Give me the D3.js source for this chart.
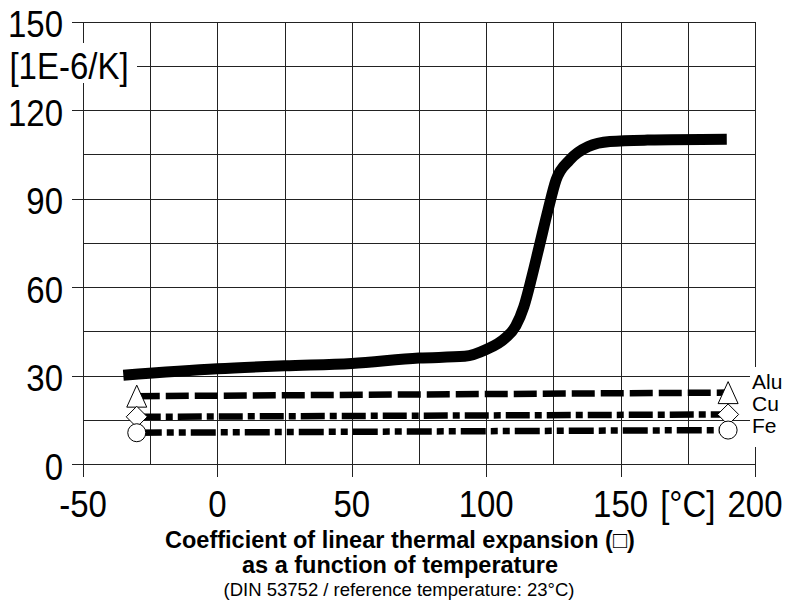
<!DOCTYPE html>
<meta charset="utf-8">
<html>
<head>
    <title>Coefficient of linear thermal expansion</title>
    <style>
        body {
            margin: 0;
            background: white;
        }

        svg text {
            font-family: "Liberation Sans", Arial, sans-serif;
            fill: black;
        }
    </style>
    <script src="https://d3js.org/d3.v7.min.js"></script>
</head>
<body>
    <div id="chart-container"></div>

    <script>
        // main curve (thick black line)
        var tempC = [-35, 0, 25, 50, 75, 92, 100, 107, 111, 114, 117, 120, 123, 126, 131, 138, 146, 160, 189.5];
        var alpha = [30.1, 32.3, 33.3, 34.1, 35.9, 36.5, 38.8, 42.6, 46.8, 53.3, 63.5, 74.8, 86.1, 96.3, 103, 107.6, 109.3, 109.8, 110.1];

        // reference metals, from -30 to 190 °C
        var refTemps = [-30, 190];
        var aluValues = [23.0, 24.2];
        var cuValues = [16.0, 16.8];
        var feValues = [10.6, 11.5];
        var metalNames = ["Alu", "Cu", "Fe"];

        // ticks
        var xTicks = [-50, 0, 50, 100, 150, 200];
        var yTicks = [0, 30, 60, 90, 120, 150];
        var xGrid = d3.range(-50, 201, 25);
        var yGrid = d3.range(0, 151, 15);

        var width = 793, height = 603;

        var svg = d3.select("#chart-container")
            .append("svg")
            .attr("width", width)
            .attr("height", height);

        var x = d3.scaleLinear().domain([-50, 200]).range([83, 755]);
        var y = d3.scaleLinear().domain([0, 150]).range([464, 21.5]);

        // grid (labelled lines stick out as ticks)
        var grid = svg.append("g")
            .attr("stroke", "#222")
            .attr("stroke-width", 1)
            .attr("shape-rendering", "crispEdges");

        grid.selectAll("line.h")
            .data(yGrid)
            .enter().append("line")
            .attr("class", "h")
            .attr("x1", d => yTicks.includes(d) ? x(-50) - 11 : x(-50))
            .attr("x2", x(200))
            .attr("y1", d => Math.round(y(d)) + 0.5)
            .attr("y2", d => Math.round(y(d)) + 0.5);

        grid.selectAll("line.v")
            .data(xGrid)
            .enter().append("line")
            .attr("class", "v")
            .attr("x1", d => Math.round(x(d)) + 0.5)
            .attr("x2", d => Math.round(x(d)) + 0.5)
            .attr("y1", y(150))
            .attr("y2", d => xTicks.includes(d) ? y(0) + 13 : y(0));

        // text helper: the original lettering is a little stretched vertically
        function bigText(g, tx, ty, anchor, str) {
            return g.append("text")
                .attr("transform", "translate(" + tx + "," + ty + ") scale(1,1.1)")
                .attr("text-anchor", anchor)
                .style("font-size", "33px")
                .text(str);
        }

        // y tick labels
        var yLab = svg.append("g");
        yTicks.forEach(function (t) {
            bigText(yLab, 63, y(t) + 15.5, "end", t);
        });

        // unit label with white box over the axis
        svg.append("rect")
            .attr("x", 3).attr("y", 43)
            .attr("width", 134).attr("height", 40)
            .attr("fill", "white");
        bigText(svg, 69, y(135) + 13.5, "middle", "[1E-6/K]");

        // x tick labels
        var xLab = svg.append("g");
        xTicks.forEach(function (t) {
            bigText(xLab, x(t), 517, "middle", t);
        });
        bigText(xLab, x(175), 517, "middle", "[°C]");

        // main curve
        var mainData = tempC.map((t, i) => ({ t: t, v: alpha[i] }));
        var line = d3.line()
            .x(d => x(d.t))
            .y(d => y(d.v))
            .curve(d3.curveMonotoneX);

        svg.append("path")
            .datum(mainData)
            .attr("d", line)
            .attr("fill", "none")
            .attr("stroke", "black")
            .attr("stroke-width", 11)
            .attr("stroke-linejoin", "round")
            .attr("stroke-linecap", "butt");

        // metal reference lines
        var metals = [
            { name: metalNames[0], values: aluValues, dash: "23,6", marker: "M0,-11L10,11L-10,11Z" },
            { name: metalNames[1], values: cuValues, dash: "24,5,7,5", marker: "M0,-10.5L10.5,0L0,10.5L-10.5,0Z" },
            { name: metalNames[2], values: feValues, dash: "25,5,7,5,7,5", marker: "circle" }
        ];

        var refLine = d3.line()
            .x(d => x(d.t))
            .y(d => y(d.v));

        metals.forEach(function (m) {
            var pts = refTemps.map((t, i) => ({ t: t, v: m.values[i] }));

            svg.append("path")
                .datum(pts)
                .attr("d", refLine)
                .attr("fill", "none")
                .attr("stroke", "black")
                .attr("stroke-width", 6.5)
                .attr("stroke-dasharray", m.dash);

            // open markers at both ends
            svg.append("g")
                .selectAll("path")
                .data(pts)
                .enter().append("path")
                .attr("transform", d => "translate(" + x(d.t) + "," + y(d.v) + ")")
                .attr("d", m.marker == "circle" ? d3.symbol(d3.symbolCircle, Math.PI * 81)() : m.marker)
                .attr("fill", "white")
                .attr("stroke", "black")
                .attr("stroke-width", 1);
        });

        // metal names on the right, on a white box
        svg.append("rect")
            .attr("x", 750).attr("y", 367)
            .attr("width", 43).attr("height", 80)
            .attr("fill", "white");

        svg.append("g")
            .selectAll("text")
            .data(metals)
            .enter().append("text")
            .attr("x", 752)
            .attr("y", (d, i) => 389 + i * 22)
            .style("font-size", "21px")
            .text(d => d.name);

        // caption
        svg.append("text")
            .attr("x", 400).attr("y", 548)
            .attr("text-anchor", "middle")
            .style("font-size", "23.5px")
            .style("font-weight", "bold")
            .text("Coefficient of linear thermal expansion (\u25A1)");

        svg.append("text")
            .attr("x", 400).attr("y", 573)
            .attr("text-anchor", "middle")
            .style("font-size", "23.5px")
            .style("font-weight", "bold")
            .text("as a function of temperature");

        svg.append("text")
            .attr("x", 399).attr("y", 596)
            .attr("text-anchor", "middle")
            .style("font-size", "18.5px")
            .text("(DIN 53752 / reference temperature: 23°C)");
    </script>
</body>
</html>
